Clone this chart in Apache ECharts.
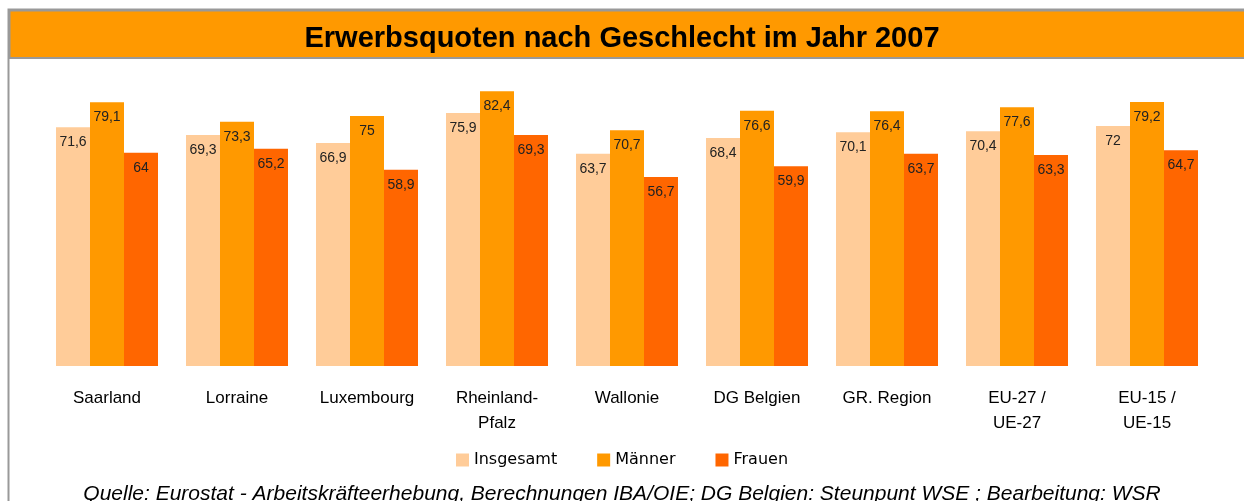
<!DOCTYPE html>
<html>
<head>
<meta charset="utf-8">
<script src="https://cdn.jsdelivr.net/npm/echarts@6/dist/echarts.min.js"></script>
<style>
  html, body { margin: 0; padding: 0; background: #fff; }
  #chart { width: 1244px; height: 501px; }
</style>
</head>
<body>
<div id="chart"></div>
<script>
// Kategorien und Werte (Erwerbsquoten 2007, in %)
const categories = ['Saarland', 'Lorraine', 'Luxembourg', 'Rheinland-\nPfalz', 'Wallonie',
  'DG Belgien', 'GR. Region', 'EU-27 /\nUE-27', 'EU-15 /\nUE-15']
const insgesamt = [71.6, 69.3, 66.9, 75.9, 63.7, 68.4, 70.1, 70.4, 72]
const maenner = [79.1, 73.3, 75, 82.4, 70.7, 76.6, 76.4, 77.6, 79.2]
const frauen = [64, 65.2, 58.9, 69.3, 56.7, 59.9, 63.7, 63.3, 64.7]

const titleText = 'Erwerbsquoten nach Geschlecht im Jahr 2007'
const sourceText = 'Quelle: Eurostat - Arbeitskräfteerhebung, Berechnungen IBA/OIE; DG Belgien: Steunpunt WSE ; Bearbeitung: WSR'

const chart = echarts.init(document.getElementById('chart'))

// Beschriftung im Balken oben, Dezimalkomma
function barLabel () {
  return {
    show: true,
    position: 'insideTop',
    distance: 8,
    color: '#222',
    fontSize: 14,
    fontFamily: 'Liberation Sans, Arial, sans-serif',
    formatter: p => String(p.value).replace('.', ',')
  }
}

function makeSeries (name, data, color) {
  return {
    name,
    type: 'bar',
    data,
    barWidth: 34,
    barGap: '0%',
    itemStyle: { color },
    label: barLabel()
  }
}

chart.setOption({
  animation: false,
  title: {
    text: titleText,
    left: 'center',
    top: 19,
    textStyle: {
      fontFamily: 'Liberation Sans, Arial, sans-serif',
      fontWeight: 'bold',
      fontSize: 29,
      color: '#000'
    }
  },
  graphic: [
    // Rahmen
    {
      type: 'rect',
      z: -10,
      shape: { x: 8.5, y: 9.5, width: 1250, height: 520 },
      style: { fill: '#fff', stroke: '#999', lineWidth: 2 }
    },
    // Titelband
    {
      type: 'rect',
      z: -9,
      shape: { x: 9.5, y: 10.5, width: 1250, height: 47.5 },
      style: { fill: '#FF9900', stroke: '#999', lineWidth: 2 }
    },
    {
      type: 'text',
      left: 'center',
      top: 484,
      style: {
        text: sourceText,
        fontFamily: 'Liberation Sans, Arial, sans-serif',
        fontStyle: 'italic',
        fontSize: 21,
        fill: '#000'
      }
    }
  ],
  legend: {
    top: 447,
    left: 'center',
    itemWidth: 13,
    itemHeight: 13,
    itemGap: 40,
    icon: 'rect',
    textStyle: {
      fontFamily: 'DejaVu Sans, Open Sans, sans-serif',
      fontSize: 16,
      color: '#000'
    },
    data: ['Insgesamt', 'Männer', 'Frauen']
  },
  grid: { left: 42, right: 32, top: 66, height: 300, containLabel: false },
  xAxis: {
    type: 'category',
    data: categories,
    axisLine: { show: false },
    axisTick: { show: false },
    axisLabel: {
      margin: 20,
      fontFamily: 'Liberation Sans, Arial, sans-serif',
      fontSize: 17,
      color: '#000',
      lineHeight: 25,
      interval: 0
    }
  },
  yAxis: {
    type: 'value',
    min: 0,
    max: 90,
    show: false
  },
  series: [
    makeSeries('Insgesamt', insgesamt, '#FFCC99'),
    makeSeries('Männer', maenner, '#FF9900'),
    makeSeries('Frauen', frauen, '#FF6600')
  ]
})
</script>
</body>
</html>
